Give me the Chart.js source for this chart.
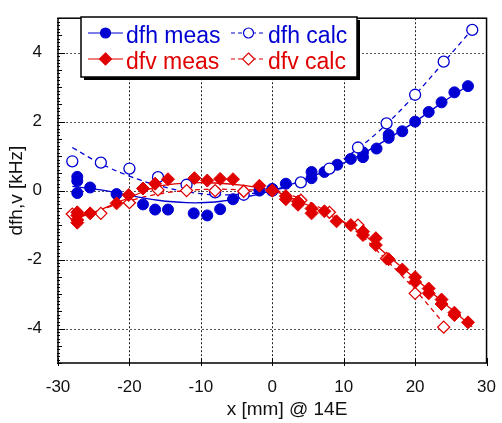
<!DOCTYPE html>
<html>
<head>
<meta charset="utf-8">
<title>dfh / dfv</title>
<script src="https://cdn.jsdelivr.net/npm/chart.js"></script>
<style>
  html, body { margin: 0; padding: 0; background: #fff; }
  #wrap { width: 502px; height: 423px; }
</style>
</head>
<body>
<div id="wrap"><canvas id="chart" width="502" height="423"></canvas></div>
<script>
// measured points
const dfhMeasX = [-27.3, -27.3, -27.3, -25.5, -21.8, -18.1, -16.4, -14.6, -11.0, -9.1, -7.3, -5.5, -1.8, 0,
                  1.9, 5.5, 5.5, 7.3, 9.1, 11.0, 12.7, 12.7, 14.6, 16.3, 16.3, 18.2, 20.0, 21.9, 23.7, 25.5, 27.4];
const dfhMeasY = [0.40, 0.28, -0.07, 0.09, -0.10, -0.40, -0.55, -0.55, -0.66, -0.72, -0.54, -0.25, 0.0, 0.05,
                  0.20, 0.54, 0.36, 0.54, 0.75, 0.92, 0.97, 1.11, 1.22, 1.53, 1.62, 1.72, 2.00, 2.28, 2.56, 2.85, 3.03];

const dfvMeasX = [-27.3, -27.3, -27.3, -27.3, -25.5, -21.8, -20.1, -18.1, -16.4, -14.6, -10.9, -9.1, -7.3, -5.5, -1.8, 0,
                  1.9, 1.9, 3.6, 3.6, 5.5, 5.5, 7.3, 9.0, 11.0, 12.7, 12.7, 14.5, 14.5, 16.3, 18.2,
                  20.0, 20.0, 21.9, 21.9, 23.7, 23.7, 25.5, 25.5, 27.4];
const dfvMeasY = [-0.63, -0.72, -0.85, -0.93, -0.66, -0.37, -0.13, 0.06, 0.20, 0.33, 0.36, 0.29, 0.34, 0.33, 0.14, 0.0,
                  -0.16, -0.25, -0.32, -0.41, -0.52, -0.66, -0.60, -0.89, -1.00, -1.19, -1.29, -1.38, -1.58, -1.99, -2.29,
                  -2.51, -2.65, -2.84, -2.98, -3.16, -3.29, -3.54, -3.61, -3.82];

// calculated points
const calcX = [-28, -24, -20, -16, -12, -8, -4, 0, 4, 8, 12, 16, 20, 24, 28];
const dfhCalcY = [0.85, 0.81, 0.64, 0.39, 0.17, -0.05, -0.12, 0.0, 0.24, 0.64, 1.25, 1.95, 2.78, 3.74, 4.66];
const dfvCalcY = [-0.68, -0.66, -0.35, 0.02, 0.0, 0.0, -0.02, 0.0, -0.28, -0.63, -1.00, -1.97, -2.98, -3.96];

// fit curves
const fitX = [-28, -24, -20, -16, -12, -8, -4, 0, 4, 8, 12, 16, 20, 24, 28];
const dfhMeasFit = [0.12, 0.02, -0.14, -0.28, -0.35, -0.33, -0.20, 0.0, 0.28, 0.62, 1.00, 1.48, 2.00, 2.58, 3.12];
const dfhCalcFit = [1.25, 0.78, 0.42, 0.15, -0.03, -0.12, -0.10, 0.0, 0.26, 0.66, 1.22, 1.93, 2.78, 3.72, 4.68];
const dfvMeasFit = [-0.85, -0.55, -0.20, 0.12, 0.22, 0.22, 0.15, 0.0, -0.33, -0.72, -1.15, -1.85, -2.55, -3.25, -3.95];
const dfvCalcFit = [-0.78, -0.55, -0.30, -0.10, 0.0, 0.04, 0.02, 0.0, -0.24, -0.65, -1.22, -2.02, -2.88, -3.85];

const xTicks = [-30, -20, -10, 0, 10, 20, 30];
const yTicks = [-4, -2, 0, 2, 4];

const BLUE = '#0000d2';
const RED = '#e00000';
const FONT = "'Liberation Sans', Arial, sans-serif";

function pts(xs, ys) {
    return ys.map((y, i) => ({ x: xs[i], y: y }));
}

function fitLine(xs, ys, color, dash) {
    return {
        data: pts(xs, ys), showLine: true, pointRadius: 0, borderColor: color,
        borderWidth: 1.3, borderDash: dash, tension: 0.4, fill: false, order: 10
    };
}

// dotted grid under the data
const grid = {
    id: 'dotgrid',
    beforeDatasetsDraw(chart) {
        const ctx = chart.ctx;
        const a = chart.chartArea;
        const xs = chart.scales.x, ys = chart.scales.y;
        ctx.save();
        ctx.lineWidth = 1;
        ctx.setLineDash([2, 2]);
        ctx.strokeStyle = '#222';
        ctx.beginPath();
        xTicks.slice(1, -1).forEach(v => {
            const x = Math.round(xs.getPixelForValue(v)) + 0.5;
            ctx.moveTo(x, a.top);
            ctx.lineTo(x, a.bottom);
        });
        ctx.stroke();
        ctx.strokeStyle = '#555';
        ctx.beginPath();
        yTicks.forEach(v => {
            const y = Math.round(ys.getPixelForValue(v)) + 0.5;
            ctx.moveTo(a.left, y);
            ctx.lineTo(a.right, y);
        });
        ctx.stroke();
        ctx.restore();
    }
};

// frame, inner ticks, axis titles and boxed legend
const decor = {
    id: 'decor',
    afterDraw(chart) {
        const ctx = chart.ctx;
        const a = chart.chartArea;
        const xs = chart.scales.x, ys = chart.scales.y;
        ctx.save();
        ctx.strokeStyle = '#000';
        ctx.lineWidth = 1;
        ctx.beginPath();
        for (let v = -50; v <= 50; v++) {
            const y = Math.round(ys.getPixelForValue(v / 10)) + 0.5;
            let len = 2;
            if (v % 5 === 0) len = 4;
            if (v % 20 === 0) len = 7;
            ctx.moveTo(a.left - 1, y);
            ctx.lineTo(a.left + len, y);
        }
        xTicks.forEach(v => {
            const x = Math.round(xs.getPixelForValue(v)) + 0.5;
            ctx.moveTo(x, a.bottom + 3);
            ctx.lineTo(x, a.bottom - 5);
        });
        ctx.stroke();

        ctx.lineWidth = 1.5;
        ctx.strokeRect(a.left, a.top, a.right - a.left, a.bottom - a.top);

        // axis titles
        ctx.fillStyle = '#111';
        ctx.font = '19px ' + FONT;
        ctx.textAlign = 'center';
        ctx.textBaseline = 'middle';
        ctx.fillText('x [mm] @ 14E', 287, 410);
        ctx.save();
        ctx.translate(17, (a.top + a.bottom) / 2);
        ctx.rotate(-Math.PI / 2);
        ctx.fillText('dfh,v [kHz]', 0, 0);
        ctx.restore();

        // legend box with shadow
        const bx = 81, by = 17, bw = 276, bh = 60;
        ctx.fillStyle = '#000';
        ctx.fillRect(bx + 3, by + 3, bw, bh);
        ctx.fillStyle = '#fff';
        ctx.fillRect(bx, by, bw, bh);
        ctx.lineWidth = 1.5;
        ctx.strokeStyle = '#000';
        ctx.strokeRect(bx, by, bw, bh);

        const items = [
            { text: 'dfh meas', color: BLUE, dash: [], shape: 'circle', fillIn: true, lx: 88, ty: 33, tx: 126 },
            { text: 'dfh calc', color: BLUE, dash: [4, 3], shape: 'circle', fillIn: false, lx: 231, ty: 33, tx: 268 },
            { text: 'dfv meas', color: RED, dash: [], shape: 'diamond', fillIn: true, lx: 88, ty: 59, tx: 126 },
            { text: 'dfv calc', color: RED, dash: [4, 3], shape: 'diamond', fillIn: false, lx: 231, ty: 59, tx: 268 }
        ];
        ctx.font = '23px ' + FONT;
        ctx.textAlign = 'left';
        ctx.textBaseline = 'alphabetic';
        items.forEach(it => {
            ctx.strokeStyle = it.color;
            ctx.lineWidth = 1.2;
            ctx.setLineDash(it.dash);
            ctx.beginPath();
            ctx.moveTo(it.lx, it.ty);
            ctx.lineTo(it.lx + 35, it.ty);
            ctx.stroke();
            ctx.setLineDash([]);
            const cx = it.lx + 17.5;
            ctx.beginPath();
            if (it.shape === 'circle') {
                ctx.arc(cx, it.ty, 5, 0, Math.PI * 2);
            } else {
                ctx.moveTo(cx, it.ty - 6); ctx.lineTo(cx + 6, it.ty);
                ctx.lineTo(cx, it.ty + 6); ctx.lineTo(cx - 6, it.ty); ctx.closePath();
            }
            ctx.fillStyle = it.fillIn ? it.color : '#fff';
            ctx.fill();
            ctx.stroke();
            ctx.fillStyle = it.color;
            ctx.fillText(it.text, it.tx, it.ty + 10);
        });
        ctx.restore();
    }
};

document.addEventListener('DOMContentLoaded', function () {
    const ctx = document.getElementById('chart').getContext('2d');

    const datasets = [
        { data: pts(dfvMeasX, dfvMeasY), pointStyle: 'rectRot', pointRadius: 6.5, backgroundColor: RED,
          borderColor: RED, borderWidth: 1, showLine: false, order: 1 },
        { data: pts(calcX, dfvCalcY), pointStyle: 'rectRot', pointRadius: 6, backgroundColor: '#fff',
          borderColor: RED, borderWidth: 1.3, showLine: false, order: 2 },
        { data: pts(calcX, dfhCalcY), pointStyle: 'circle', pointRadius: 5.5, backgroundColor: '#fff',
          borderColor: BLUE, borderWidth: 1.3, showLine: false, order: 3 },
        { data: pts(dfhMeasX, dfhMeasY), pointStyle: 'circle', pointRadius: 5.5, backgroundColor: BLUE,
          borderColor: BLUE, borderWidth: 1, showLine: false, order: 4 },
        fitLine(fitX, dfhMeasFit, BLUE, []),
        fitLine(fitX, dfhCalcFit, BLUE, [5, 4]),
        fitLine(fitX, dfvMeasFit, RED, []),
        fitLine(calcX.slice(0, dfvCalcFit.length), dfvCalcFit, RED, [5, 4])
    ];

    new Chart(ctx, {
        type: 'scatter',
        data: { datasets: datasets },
        options: {
            responsive: false,
            animation: false,
            layout: { padding: { top: 9, right: 9, left: 0, bottom: 0 } },
            plugins: { legend: { display: false }, tooltip: { enabled: false } },
            scales: {
                x: {
                    type: 'linear', min: -30, max: 30,
                    afterBuildTicks: s => { s.ticks = xTicks.map(v => ({ value: v })); },
                    afterFit: s => { s.height = 60; },
                    grid: { display: false },
                    border: { display: false },
                    ticks: { color: '#111', font: { family: FONT, size: 17 }, padding: 6,
                             maxRotation: 0, callback: v => String(v) }
                },
                y: {
                    type: 'linear', min: -5, max: 5,
                    afterBuildTicks: s => { s.ticks = yTicks.map(v => ({ value: v })); },
                    afterFit: s => { s.width = 58; },
                    grid: { display: false },
                    border: { display: false },
                    ticks: { color: '#111', font: { family: FONT, size: 17 }, padding: 8,
                             callback: v => String(v) }
                }
            }
        },
        plugins: [grid, decor]
    });
});
</script>
</body>
</html>
